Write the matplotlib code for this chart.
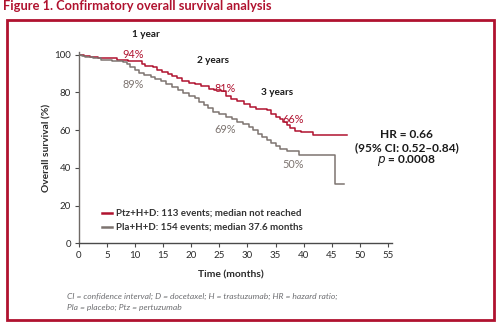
import matplotlib
matplotlib.use("Agg")
import matplotlib.pyplot as plt
from matplotlib.lines import Line2D
from matplotlib.patches import Rectangle

plt.rcParams['font.family'] = ['Lato', 'DejaVu Sans']

# Kaplan-Meier step data (months, % surviving after each step)
ptz_time = [0, 1.0, 2.0, 3.5, 6.8, 8.8, 11.2, 11.8, 13.2, 14.0, 14.8, 15.8, 16.6,
            17.4, 18.4, 19.6, 20.6, 21.8, 23.2, 24.0, 25.3, 26.2, 27.0, 28.2,
            29.4, 30.4, 31.6, 33.4, 34.2, 35.0, 35.8, 36.4, 37.0, 37.6, 38.5,
            39.5, 41.7, 47.7]
ptz_surv = [100, 99.2, 98.6, 98.0, 97.3, 96.4, 95.0, 94.2, 93.5, 92.0, 91.0, 90.0,
            88.8, 87.5, 86.0, 85.0, 84.2, 83.3, 82.0, 81.0, 80.5, 78.0, 76.5,
            75.5, 74.0, 72.0, 71.2, 70.4, 68.8, 67.2, 66.0, 64.5, 62.8, 61.2,
            59.7, 58.8, 57.3, 57.3]

pla_time = [0, 0.5, 1.2, 2.5, 4.0, 6.0, 7.8, 8.5, 9.2, 10.0, 10.8, 11.6, 12.8,
            13.6, 14.6, 15.6, 16.6, 17.6, 18.6, 19.6, 20.6, 21.4, 22.2, 23.0,
            23.8, 25.0, 26.2, 27.2, 28.2, 29.2, 30.2, 31.0, 31.8, 32.6, 33.4,
            34.2, 35.0, 35.8, 37.1, 39.1, 45.6, 47.1]
pla_surv = [100, 99.4, 98.6, 98.0, 97.3, 96.8, 96.0, 94.8, 93.2, 91.8, 90.5, 89.0,
            88.0, 87.0, 86.0, 84.6, 83.0, 81.0, 79.8, 78.2, 76.8, 75.0, 73.2,
            71.5, 69.5, 68.5, 67.2, 65.8, 64.5, 63.0, 61.8, 60.0, 58.2, 56.5,
            54.8, 53.0, 51.5, 50.2, 49.1, 46.8, 31.4, 31.4]

# Landmark survival rates at 1, 2 and 3 years
landmark_month = [12, 24, 36]
landmark_labels = ["1 year", "2 years", "3 years"]
ptz_rate = [94, 81, 66]
pla_rate = [89, 69, 50]

legend_labels = ["Ptz+H+D: 113 events; median not reached",
                 "Pla+H+D: 154 events; median 37.6 months"]
hr_lines = ["HR = 0.66", "(95% CI: 0.52\u20130.84)", r"$\mathit{p}$ = 0.0008"]
x_ticks = list(range(0, 60, 5))
y_ticks = list(range(0, 120, 20))

RED = "#b0122f"
GRAY = "#7d7470"
DARK = "#2b2b2b"
W, H = 500, 327

fig = plt.figure(figsize=(5.0, 3.27), dpi=100)
fig.patch.set_facecolor("white")

# Title and frame
fig.text(3 / W, 1 - 6.5 / H, "Figure 1. Confirmatory overall survival analysis",
         color=RED, fontsize=9.3, fontweight="bold", ha="left", va="center")
fig.add_artist(Rectangle((6.5 / W, 1 - 320 / H), 487.5 / W, 300 / H,
                         transform=fig.transFigure, fill=False,
                         edgecolor=RED, linewidth=2.0))

ax = fig.add_axes([78.7 / W, 1 - 243.3 / H, (392 - 78.7) / W, (243.3 - 52) / H])
ax.step(ptz_time, ptz_surv, where="post", color=RED, lw=1.1)
ax.step(pla_time, pla_surv, where="post", color=GRAY, lw=1.1)

ax.set_xlim(0, 55.7)
ax.set_ylim(0, 101.4)
ax.set_xticks(x_ticks)
ax.set_yticks(y_ticks)
for s in ("top", "right"):
    ax.spines[s].set_visible(False)
ax.spines["left"].set_color("#6f6a66")
ax.spines["bottom"].set_color("#4a4a4a")
ax.spines["left"].set_linewidth(1.0)
ax.spines["bottom"].set_linewidth(1.0)
ax.tick_params(direction="out", length=3, width=0.8, colors="#4a4a4a",
               labelsize=7, labelcolor=DARK, pad=2.5)
ax.set_xlabel("Time (months)", fontsize=7.4, fontweight="bold", color=DARK)
ax.set_ylabel("Overall survival (%)", fontsize=7.4, fontweight="bold", color=DARK)
ax.xaxis.set_label_coords((231 - 78.7) / (392 - 78.7), -(275 - 243.3) / (243.3 - 52))
ax.yaxis.set_label_coords(-(78.7 - 46.5) / (392 - 78.7), (243.3 - 148) / (243.3 - 52))
ax.xaxis.label.set_va("center")
ax.yaxis.label.set_va("center")

# Landmark annotations
year_pos = [(12, 110.5), (23.8, 97), (35.3, 80)]
for (xm, yy), lab in zip(year_pos, landmark_labels):
    ax.text(xm, yy, lab, fontsize=7.2, fontweight="bold", color="#1a1a1a",
            ha="center", va="center", clip_on=False)

ptz_pos = [(9.7, 100.2), (26.0, 82.3), (38.1, 65.7)]
pla_pos = [(9.7, 84.3), (26.0, 60.2), (38.2, 42.0)]
for (xp, yp), v in zip(ptz_pos, ptz_rate):
    ax.text(xp, yp, f"{v}%", fontsize=7.8, color=RED, ha="center", va="center")
for (xp, yp), v in zip(pla_pos, pla_rate):
    ax.text(xp, yp, f"{v}%", fontsize=7.8, color=GRAY, ha="center", va="center")

# Legend drawn as short line keys with text
for yy, col, lab in zip([212.7, 227.3], [RED, GRAY], legend_labels):
    fig.add_artist(Line2D([101.5 / W, 112 / W], [1 - yy / H, 1 - yy / H],
                          transform=fig.transFigure, color=col, lw=1.8))
    fig.text(116.5 / W, 1 - yy / H, lab, fontsize=7.0, fontweight="bold",
             color="#333333", ha="left", va="center")

# Hazard ratio block
for yy, line in zip([134, 148, 160.7], hr_lines):
    fig.text(406.5 / W, 1 - yy / H, line, fontsize=8.6, fontweight="bold",
             color="#1a1a1a", ha="center", va="center")

# Footnote
foot = ["CI = confidence interval; D = docetaxel; H = trastuzumab; HR = hazard ratio;",
        "Pla = placebo; Ptz = pertuzumab"]
for yy, line in zip([296.7, 307.3], foot):
    fig.text(66.7 / W, 1 - yy / H, line, fontsize=6.1, style="italic",
             color="#6d6e71", ha="left", va="center")

fig.savefig("out.png", dpi=100, facecolor="white")
